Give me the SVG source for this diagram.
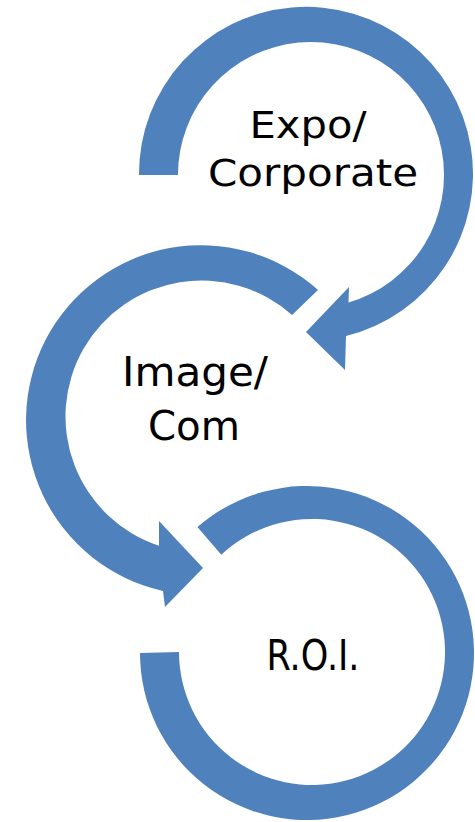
<svg xmlns="http://www.w3.org/2000/svg" width="475" height="822" viewBox="0 0 475 822">
<style>
.arc{fill:#4F81BD;stroke:none}
.lbl{font-family:"DejaVu Sans","Liberation Sans",sans-serif;fill:#000;text-anchor:middle}
</style>
<rect width="475" height="822" fill="#fff"/>
<g id="connectors"></g>
<g id="node-expo">
<path class="arc" d="M139,175 A167,167 0 1 1 346,336 L345,370 L306,332 L349,287 L348.5,302.6 A133,133 0 1 0 178,175 Z"/>
<text class="lbl" x="308" y="138" font-size="37" textLength="117" lengthAdjust="spacingAndGlyphs">Expo/</text>
<text class="lbl" x="313" y="186" font-size="37" textLength="210" lengthAdjust="spacingAndGlyphs">Corporate</text>
</g>
<g id="node-image">
<path class="arc" d="M318,290 A175,175 0 1 0 163,591 L165,607 L203,568 L159,521 L159,545.7 A136,136 0 1 1 292,315 Z"/>
<text class="lbl" x="195" y="386" font-size="41" textLength="146" lengthAdjust="spacingAndGlyphs">Image/</text>
<text class="lbl" x="194" y="440" font-size="41" textLength="92" lengthAdjust="spacingAndGlyphs">Com</text>
</g>
<g id="node-roi">
<path class="arc" d="M197.4,527 A167,167 0 1 1 140,653 L179,652 A133,133 0 1 0 221.3,554.7 Z"/>
<text class="lbl" x="313" y="670" font-size="42" textLength="93" lengthAdjust="spacingAndGlyphs">R.O.I.</text>
</g>
</svg>
